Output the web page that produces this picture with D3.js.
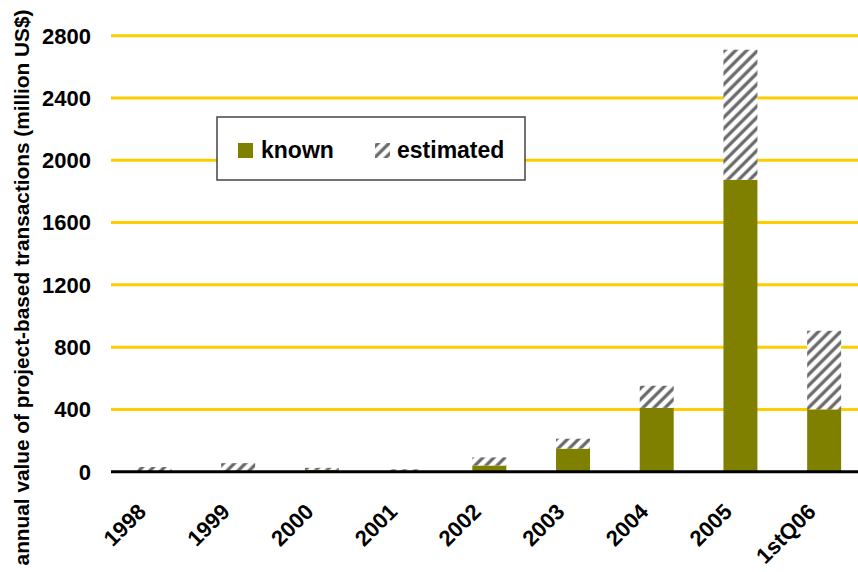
<html>
<head>
<meta charset="utf-8" />
<script src="https://d3js.org/d3.v7.min.js"></script>
<style>
  body { margin: 0; background: #fff; }
  text { font-family: Arial, "Liberation Sans", sans-serif; font-weight: bold; }
</style>
</head>
<body>
<svg width="858" height="572"></svg>
<script>
// data (million US$)
var categories = ["1998", "1999", "2000", "2001", "2002", "2003", "2004", "2005", "1stQ06"];
var known = [0, 0, 12, 0, 40, 148, 410, 1875, 400];
var estimated = [30, 55, 13, 15, 52, 64, 142, 835, 505];
var yTicks = [0, 400, 800, 1200, 1600, 2000, 2400, 2800];
var legendLabels = ["known", "estimated"];

var svg = d3.select("svg");

var x = d3.scaleBand().domain(categories).range([112.6, 866]).paddingInner(0.594).paddingOuter(0.297);
var y = d3.scaleLinear().domain([0, 2800]).range([471.7, 35.7]);

// hatch pattern for estimated part
var defs = svg.append("defs");
var pat = defs.append("pattern")
    .attr("id", "hatch")
    .attr("patternUnits", "userSpaceOnUse")
    .attr("width", 7.8).attr("height", 7.8)
    .attr("patternTransform", "rotate(45)");
pat.append("rect").attr("width", 7.8).attr("height", 7.8).attr("fill", "#fff");
pat.append("line").attr("x1", 2).attr("y1", 0).attr("x2", 2).attr("y2", 7.8)
    .attr("stroke", "#666").attr("stroke-width", 3.2);

// gridlines
svg.append("g").selectAll("line").data(yTicks.filter(function(d) { return d > 0; }))
    .enter().append("line")
    .attr("x1", 111).attr("x2", 858)
    .attr("y1", function(d) { return y(d); })
    .attr("y2", function(d) { return y(d); })
    .attr("stroke", "#ffcc00").attr("stroke-width", 3);

// y tick labels
svg.append("g").selectAll("text").data(yTicks).enter().append("text")
    .attr("x", 91).attr("y", function(d) { return y(d); })
    .attr("dy", "0.36em")
    .attr("text-anchor", "end")
    .attr("font-size", 22)
    .text(function(d) { return d; });

// bars
var rows = categories.map(function(c, i) { return { cat: c, known: known[i], est: estimated[i] }; });

svg.append("g").selectAll("rect").data(rows).enter().append("rect")
    .attr("x", function(d) { return x(d.cat); })
    .attr("width", x.bandwidth())
    .attr("y", function(d) { return y(d.known); })
    .attr("height", function(d) { return y(0) - y(d.known); })
    .attr("fill", "#808000");

svg.append("g").selectAll("rect").data(rows).enter().append("rect")
    .attr("x", function(d) { return x(d.cat); })
    .attr("width", x.bandwidth())
    .attr("y", function(d) { return y(d.known + d.est); })
    .attr("height", function(d) { return y(d.known) - y(d.known + d.est); })
    .attr("fill", "url(#hatch)");

// baseline
svg.append("line")
    .attr("x1", 111).attr("x2", 858)
    .attr("y1", y(0)).attr("y2", y(0))
    .attr("stroke", "#000").attr("stroke-width", 3);

// x labels
svg.append("g").selectAll("text").data(categories).enter().append("text")
    .attr("transform", function(d) { return "translate(" + (x(d) + x.bandwidth() / 2 - 7) + ",513) rotate(-45)"; })
    .attr("text-anchor", "end")
    .attr("font-size", 22)
    .text(function(d) { return d; });

// y title
svg.append("text")
    .attr("transform", "translate(29,287.5) rotate(-90)")
    .attr("text-anchor", "middle")
    .attr("font-size", 20.8)
    .text("annual value of project-based transactions (million US$)");

// legend
var lg = svg.append("g");
lg.append("rect").attr("x", 217).attr("y", 117).attr("width", 308).attr("height", 63)
    .attr("fill", "#fff").attr("stroke", "#444").attr("stroke-width", 1.5);
lg.append("rect").attr("x", 238).attr("y", 143).attr("width", 15).attr("height", 15).attr("fill", "#808000");
lg.append("rect").attr("x", 375).attr("y", 143).attr("width", 15).attr("height", 15).attr("fill", "url(#hatch)");
lg.append("text").attr("x", 261).attr("y", 158).attr("font-size", 23).text(legendLabels[0]);
lg.append("text").attr("x", 397).attr("y", 158).attr("font-size", 23).text(legendLabels[1]);
</script>
</body>
</html>
